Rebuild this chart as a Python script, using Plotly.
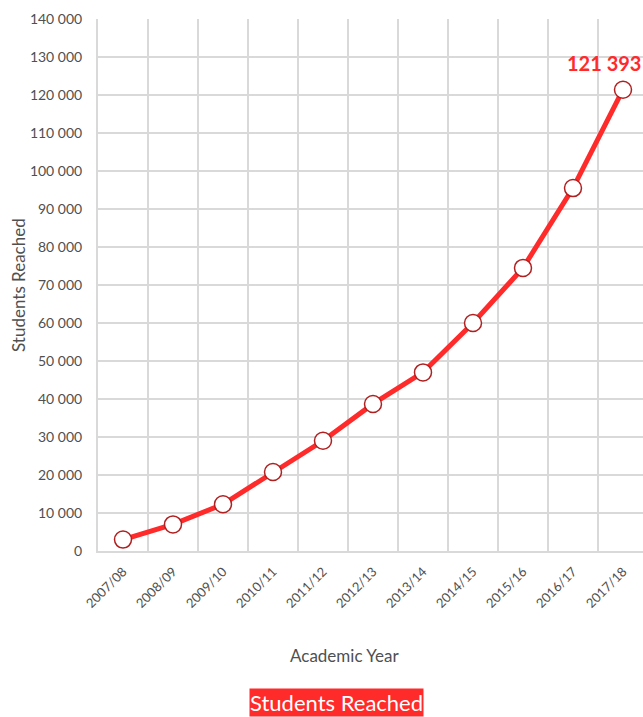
import plotly.graph_objects as go

years = ["2007/08", "2008/09", "2009/10", "2010/11", "2011/12", "2012/13",
         "2013/14", "2014/15", "2015/16", "2016/17", "2017/18"]
students = [3000, 7000, 12300, 20800, 29000, 38700, 47000, 60000, 74500, 95500, 121393]
y_ticks = list(range(0, 140001, 10000))

RED = "#FF2A2A"
GRID = "#D9D9D9"
TXT = "#505050"
FONT = "Lato, Open Sans, sans-serif"

xs = list(range(len(years)))

fig = go.Figure()
fig.add_trace(go.Scatter(
    x=xs, y=students, mode="lines+markers",
    line=dict(color=RED, width=5),
    marker=dict(size=17, color="white", line=dict(color="#B02020", width=1.5)),
    showlegend=False, hoverinfo="skip", cliponaxis=False,
))

fig.update_layout(
    width=643, height=717,
    margin=dict(l=98, r=0, t=19, b=166, autoexpand=False),
    paper_bgcolor="white", plot_bgcolor="white",
    separators=". ",
    font=dict(family=FONT, color=TXT, size=14),
    xaxis=dict(
        range=[-0.5, 10.4], tickmode="array", tickvals=xs, ticktext=years,
        tickangle=-45, showgrid=False, zeroline=False, automargin=False,
        ticks="outside", ticklen=6, tickcolor="rgba(0,0,0,0)",
        tickfont=dict(size=13, color=TXT, family=FONT),
        showline=True, linecolor=GRID, linewidth=2,
        minor=dict(tickmode="array", tickvals=[i - 0.5 for i in range(12)],
                   showgrid=True, gridcolor=GRID, gridwidth=2),
    ),
    yaxis=dict(
        range=[0, 140000], tickmode="array", tickvals=y_ticks,
        tickformat=",d", showgrid=True, gridcolor=GRID, gridwidth=2,
        zeroline=False, showline=True, linecolor=GRID, linewidth=2,
        automargin=False,
        ticks="outside", ticklen=11, tickcolor="rgba(0,0,0,0)",
        tickfont=dict(size=14, color=TXT, family=FONT),
    ),
    annotations=[
        dict(text="<b>121 393</b>", x=xs[-1], y=students[-1], xref="x", yref="y",
             xshift=-19, yshift=27, showarrow=False,
             xanchor="center", yanchor="middle",
             font=dict(size=20, color=RED, family=FONT)),
        dict(text="Students Reached", x=-0.1468, y=0.5, xref="paper", yref="paper",
             textangle=-90, showarrow=False, xanchor="center", yanchor="middle",
             font=dict(size=17, color=TXT, family=FONT)),
        dict(text="Academic Year", x=0.453, y=-0.1955, xref="paper", yref="paper",
             showarrow=False, xanchor="center", yanchor="middle",
             font=dict(size=17, color=TXT, family=FONT)),
        dict(text="Students Reached", x=0.4385, y=-0.2857, xref="paper", yref="paper",
             showarrow=False, bgcolor=RED, borderpad=0,
             xanchor="center", yanchor="middle",
             font=dict(size=22, color="white", family=FONT)),
    ],
)

fig.write_html("out.html", config={"displayModeBar": False},
               post_script="document.body.style.margin='0';")
